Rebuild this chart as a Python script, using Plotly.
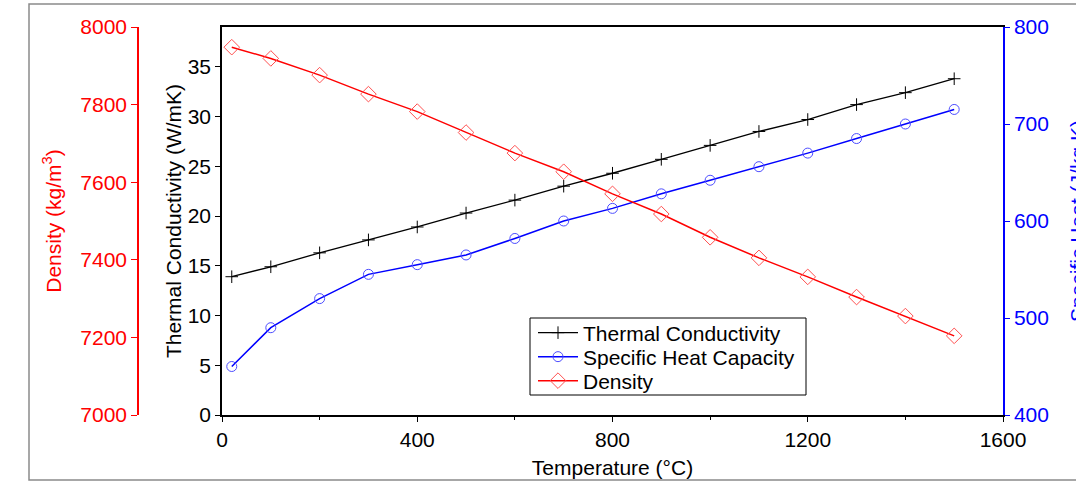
import plotly.graph_objects as go

# Material properties versus temperature
temperature = [20, 100, 200, 300, 400, 500, 600, 700, 800, 900, 1000, 1100, 1200, 1300, 1400, 1500]
thermal_conductivity = [13.9, 14.9, 16.3, 17.6, 18.9, 20.3, 21.6, 23.0, 24.3, 25.7, 27.1, 28.5, 29.7, 31.2, 32.4, 33.8]
specific_heat = [450, 490, 520, 545, 555, 565, 582, 600, 613, 628, 642, 656, 670, 685, 700, 715]
density = [7948, 7919, 7876, 7827, 7782, 7728, 7675, 7627, 7570, 7518, 7458, 7405, 7356, 7304, 7255, 7204]

x_ticks = [0, 400, 800, 1200, 1600]
k_ticks = [0, 5, 10, 15, 20, 25, 30, 35]
cp_ticks = [400, 500, 600, 700, 800]
rho_ticks = [7000, 7200, 7400, 7600, 7800, 8000]

FONT = "Liberation Sans, Arial, sans-serif"
W, H = 1076, 483

fig = go.Figure()

fig.add_trace(go.Scatter(
    x=temperature, y=thermal_conductivity, name="Thermal Conductivity",
    mode="lines+markers", yaxis="y", legend="legend",
    line=dict(color="black", width=1.3),
    marker=dict(symbol="cross-thin", size=9, line=dict(color="black", width=1)),
))
fig.add_trace(go.Scatter(
    x=temperature, y=specific_heat, name="Specific Heat Capacity",
    mode="lines+markers", yaxis="y2", legend="legend2",
    line=dict(color="#0000ff", width=1.5),
    marker=dict(symbol="circle-open", size=10, color="#4d4dff", line=dict(width=1)),
))
fig.add_trace(go.Scatter(
    x=temperature, y=density, name="Density",
    mode="lines+markers", yaxis="y3", legend="legend3",
    line=dict(color="#ff0000", width=1.5),
    marker=dict(symbol="diamond-open", size=12, color="#ff5050", line=dict(width=1)),
))

x0, x1 = 222 / W, 1003 / W
y0, y1 = (H - 415) / H, (H - 27) / H

# one legend row per series, stacked inside a single framed box
box_left, box_right, box_top, box_bottom = 530, 806, 318, 395
row_centres = [333, 357, 381]


def legend_row(yc):
    return dict(
        x=(box_left + 3) / W, y=(H - yc) / H, xanchor="left", yanchor="middle",
        bgcolor="rgba(0,0,0,0)", borderwidth=0,
        font=dict(family=FONT, size=21, color="black"),
        itemwidth=40,
    )


fig.update_layout(
    template="none",
    width=W, height=H,
    margin=dict(l=0, r=0, t=0, b=0),
    paper_bgcolor="white", plot_bgcolor="white",
    font=dict(family=FONT, size=21, color="black"),
    showlegend=True,
    legend=legend_row(row_centres[0]),
    legend2=legend_row(row_centres[1]),
    legend3=legend_row(row_centres[2]),
    xaxis=dict(
        domain=[x0, x1], range=[0, 1600],
        tickvals=x_ticks, ticks="outside", ticklen=5, tickwidth=1, tickcolor="black",
        minor=dict(dtick=200, tick0=0, ticks="outside", ticklen=3, tickcolor="black"),
        showline=True, linecolor="black", linewidth=1.5, mirror=True,
        showgrid=False, zeroline=False,
        title=dict(text="Temperature (°C)", standoff=10, font=dict(size=21)),
        tickfont=dict(size=21),
    ),
    yaxis=dict(
        domain=[y0, y1], range=[0, 39],
        tickvals=k_ticks, ticks="outside", ticklen=5, tickcolor="black",
        showline=True, linecolor="black", linewidth=1.5,
        showgrid=False, zeroline=False,
        title=dict(text="Thermal Conductivity (W/mK)", standoff=0, font=dict(size=21)),
        tickfont=dict(size=21),
    ),
    yaxis2=dict(
        domain=[y0, y1], range=[400, 800], overlaying="y", side="right", anchor="x",
        tickvals=cp_ticks, ticks="outside", ticklen=5, tickcolor="#0000ff",
        showline=True, linecolor="#0000ff", linewidth=1.5,
        showgrid=False, zeroline=False,
        tickfont=dict(size=21, color="#0000ff"),
    ),
    yaxis3=dict(
        domain=[y0, y1], range=[7000, 8000], overlaying="y", side="left",
        anchor="free", position=138 / W,
        tickvals=rho_ticks, ticks="outside", ticklen=6, tickcolor="#ff0000",
        showline=True, linecolor="#ff0000", linewidth=1.5,
        showgrid=False, zeroline=False,
        tickfont=dict(size=21, color="#ff0000"),
        title=dict(text="Density (kg/m<sup>3</sup>)", standoff=12,
                   font=dict(size=21, color="#ff0000")),
    ),
    # right-hand axis title sits at the page edge, partly beyond it
    annotations=[dict(
        text="Specific Heat (J/kg K)", textangle=-90,
        xref="paper", yref="paper", x=1078 / W, y=(y0 + y1) / 2,
        xanchor="center", yanchor="middle", showarrow=False,
        font=dict(family=FONT, size=21, color="#0000ff"),
    )],
    shapes=[
        dict(
            type="rect", xref="paper", yref="paper",
            x0=29 / W, x1=1.02, y0=(H - 480) / H, y1=(H - 4) / H,
            line=dict(color="#8a8a8a", width=1.5), layer="below",
        ),
        dict(
            type="rect", xref="paper", yref="paper",
            x0=box_left / W, x1=box_right / W,
            y0=(H - box_bottom) / H, y1=(H - box_top) / H,
            line=dict(color="black", width=1), fillcolor="white", layer="above",
        ),
    ],
)

fig.write_html("out.html")
